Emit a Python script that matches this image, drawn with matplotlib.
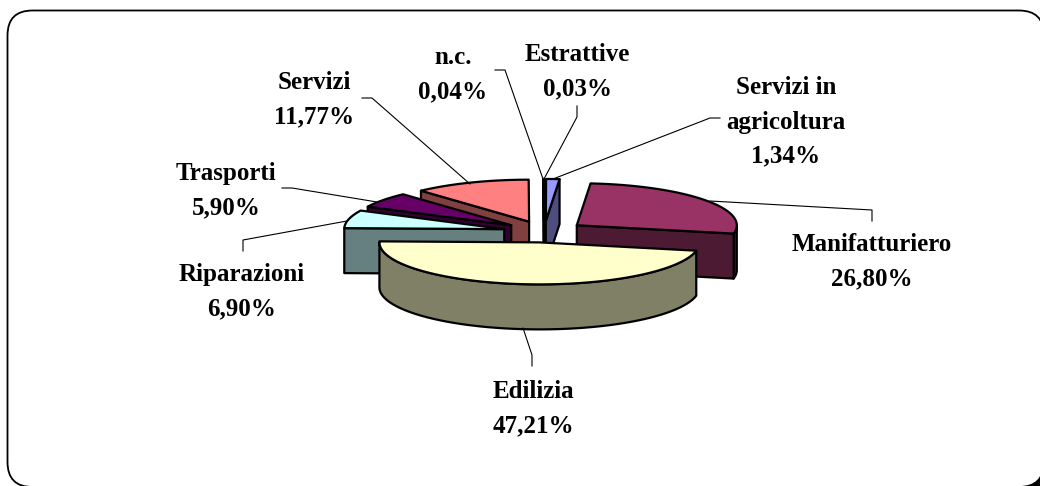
#Imports
import numpy as np
import matplotlib
matplotlib.use("Agg")
import matplotlib.pyplot as plt
from matplotlib.patches import FancyBboxPatch, Polygon

#Data, clockwise from 12 o'clock
names = ["Estrattive", "Servizi in\nagricoltura", "Manifatturiero", "Edilizia",
         "Riparazioni", "Trasporti", "Servizi", "n.c."]
shares = [0.03, 1.34, 26.80, 47.21, 6.90, 5.90, 11.77, 0.04]
share_labels = ["0,03%", "1,34%", "26,80%", "47,21%", "6,90%", "5,90%", "11,77%", "0,04%"]
top_colors = ["#CCCCFF", "#9999FF", "#993366", "#FFFFCC", "#CCFFFF", "#660066", "#FF8080", "#0066CC"]
side_colors = ["#666680", "#4D4D80", "#4D1A33", "#808066", "#668080", "#330033", "#804040", "#003366"]

#Label centres and leader lines, in pixels of the picture
label_x = [577, 786, 872, 533, 242, 226, 314, 453]
label_y = [71.5, 122, 262, 409, 292, 191, 100, 74.5]
leaders = [
    [(577, 106), (577, 117), (544, 179)],
    [(720, 118), (710, 118), (553, 179)],
    [(872, 221), (872, 210), (710, 201)],
    [(532, 366), (532, 355), (523, 328)],
    [(243, 251), (243, 240), (347, 221)],
    [(282, 188), (292, 188), (377, 202)],
    [(362, 98), (372, 98), (470, 184)],
    [(495, 70), (505, 70), (543, 179)],
]

#Pie geometry
cx, cy = 544, 231.7
rx, ry = 160, 42
explode = 0.256
depth = 45


def point(apex, angle):
    a = np.radians(angle)
    return apex[0] + rx * np.sin(a), apex[1] - ry * np.cos(a)


def arc(apex, a1, a2):
    angles = np.linspace(a1, a2, max(int(abs(a2 - a1)) + 2, 2))
    return [point(apex, a) for a in angles]


def wall(points):
    lower = [(x, y + depth) for x, y in reversed(points)]
    return list(points) + lower


fig = plt.figure(figsize=(10.4, 4.86), dpi=100)
ax = fig.add_axes([0, 0, 1, 1])
ax.set_xlim(0, 1040)
ax.set_ylim(486, 0)
ax.axis("off")

#Frame with its shadow
ax.add_patch(FancyBboxPatch((30, 30), 1040, 466, boxstyle="round,pad=0,rounding_size=25",
                            fc="black", ec="black", lw=1, zorder=1))
ax.add_patch(FancyBboxPatch((7.5, 10.5), 1036.5, 476.5, boxstyle="round,pad=0,rounding_size=25",
                            fc="white", ec="black", lw=1.3, zorder=2))

#Slices
edges = np.cumsum([0] + shares) / sum(shares) * 360
slices = []
for i in range(len(shares)):
    a1, a2 = edges[i], edges[i + 1]
    mid = np.radians((a1 + a2) / 2)
    apex = (cx + explode * rx * np.sin(mid), cy - explode * ry * np.cos(mid))
    slices.append((apex[1], i, apex, a1, a2))
slices.sort()

z = 3
for _, i, apex, a1, a2 in slices:
    start = point(apex, a1)
    end = point(apex, a2)
    walls = []
    # a wall faces the viewer when x falls going clockwise round the slice
    if start[0] < apex[0]:
        walls.append(wall([apex, start]))
    if max(a1, 90) < min(a2, 270):
        walls.append(wall(arc(apex, max(a1, 90), min(a2, 270))))
    if apex[0] < end[0]:
        walls.append(wall([end, apex]))
    for w in walls:
        ax.add_patch(Polygon(w, closed=True, fc=side_colors[i], ec="black", lw=1.6,
                             joinstyle="round", zorder=z))
    top = [apex] + arc(apex, a1, a2)
    ax.add_patch(Polygon(top, closed=True, fc=top_colors[i], ec="black", lw=1.6,
                         joinstyle="round", zorder=z))
    z += 1

#Leaders and labels
for i in range(len(names)):
    xs = [p[0] for p in leaders[i]]
    ys = [p[1] for p in leaders[i]]
    ax.plot(xs, ys, color="black", lw=0.8, zorder=20)
    ax.text(label_x[i], label_y[i], names[i] + "\n" + share_labels[i], ha="center", va="center",
            family="Liberation Serif", weight="bold", fontsize=18, linespacing=1.62,
            color="black", zorder=21)

fig.savefig("out.png", dpi=100)
